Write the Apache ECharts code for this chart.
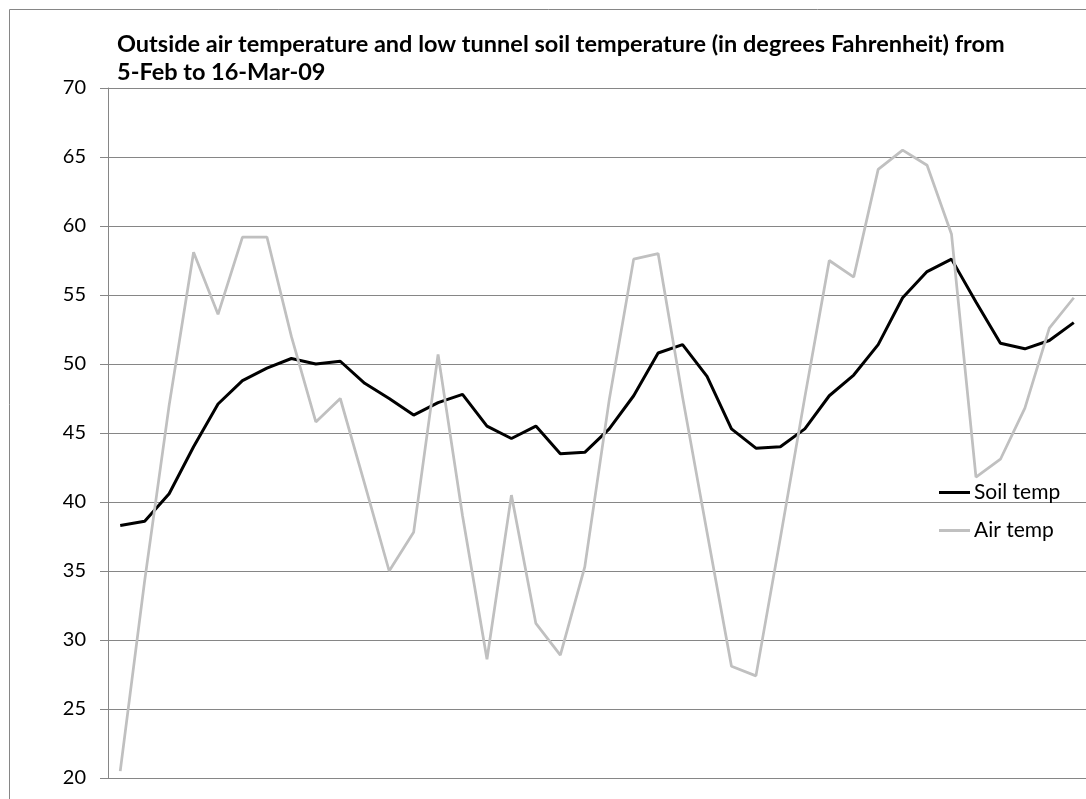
<!DOCTYPE html>
<html>
<head>
<meta charset="utf-8">
<script src="https://cdn.jsdelivr.net/npm/echarts@6/dist/echarts.min.js"></script>
<style>
html,body{margin:0;padding:0;background:#fff;}
#chart{width:1086px;height:799px;}
</style>
</head>
<body>
<div id="chart"></div>
<script>
const categories = ['5-Feb','6-Feb','7-Feb','8-Feb','9-Feb','10-Feb','11-Feb','12-Feb','13-Feb','14-Feb',
  '15-Feb','16-Feb','17-Feb','18-Feb','19-Feb','20-Feb','21-Feb','22-Feb','23-Feb','24-Feb',
  '25-Feb','26-Feb','27-Feb','28-Feb','1-Mar','2-Mar','3-Mar','4-Mar','5-Mar','6-Mar',
  '7-Mar','8-Mar','9-Mar','10-Mar','11-Mar','12-Mar','13-Mar','14-Mar','15-Mar','16-Mar'];
const soilTemp = [38.3, 38.6, 40.6, 44.0, 47.1, 48.8, 49.7, 50.4, 50.0, 50.2,
  48.6, 47.5, 46.3, 47.2, 47.8, 45.5, 44.6, 45.5, 43.5, 43.6,
  45.3, 47.7, 50.8, 51.4, 49.1, 45.3, 43.9, 44.0, 45.3, 47.7,
  49.2, 51.4, 54.8, 56.7, 57.6, 54.5, 51.5, 51.1, 51.7, 53.0];
const airTemp = [20.5, 34.3, 47.0, 58.1, 53.6, 59.2, 59.2, 52.0, 45.8, 47.5,
  41.3, 35.0, 37.8, 50.7, 39.0, 28.6, 40.5, 31.2, 28.9, 35.3,
  47.4, 57.6, 58.0, 47.6, 37.8, 28.1, 27.4, 37.4, 47.6, 57.5,
  56.3, 64.1, 65.5, 64.4, 59.4, 41.8, 43.1, 46.8, 52.6, 54.8];
const seriesNames = ['Soil temp', 'Air temp'];
const titleText = 'Outside air temperature and low tunnel soil temperature (in degrees Fahrenheit) from\n5-Feb to 16-Mar-09';

const FONT = 'Lato, "Open Sans", sans-serif';
const chart = echarts.init(document.getElementById('chart'), null, {renderer: 'canvas'});
chart.setOption({
  backgroundColor: '#ffffff',
  animation: false,
  graphic: [{
    type: 'rect', left: 7, top: 7, silent: true,
    shape: {x: 0, y: 0, width: 1200, height: 900},
    style: {fill: 'none', stroke: '#868686', lineWidth: 1}
  }],
  title: {
    text: titleText,
    left: 117, top: 30, padding: 0,
    textStyle: {fontFamily: FONT, fontWeight: 'bold', fontSize: 23.5, lineHeight: 28, color: '#000'}
  },
  legend: {
    data: seriesNames,
    orient: 'vertical',
    left: 939, top: 481,
    itemWidth: 31, itemHeight: 3, itemGap: 15, padding: 0,
    icon: 'rect',
    textStyle: {fontFamily: FONT, fontSize: 21, color: '#000', lineHeight: 23, padding: [0,0,0,-1]}
  },
  grid: {left: 108, top: 88, bottom: 21, right: -6, containLabel: false},
  xAxis: {
    type: 'category', data: categories, boundaryGap: true,
    axisLine: {show: true, lineStyle: {color: '#868686', width: 1}},
    axisTick: {show: false}, axisLabel: {show: false}, splitLine: {show: false}
  },
  yAxis: {
    type: 'value', min: 20, max: 70, interval: 5,
    axisLine: {show: true, lineStyle: {color: '#868686', width: 1}},
    axisTick: {show: true, inside: false, length: 8, lineStyle: {color: '#868686'}},
    axisLabel: {fontFamily: FONT, fontSize: 20, color: '#000', margin: 22},
    splitLine: {show: true, lineStyle: {color: '#868686', width: 1}}
  },
  series: [
    {name: seriesNames[0], type: 'line', data: soilTemp, symbol: 'none',
     lineStyle: {color: '#000000', width: 3}, itemStyle: {color: '#000000'}},
    {name: seriesNames[1], type: 'line', data: airTemp, symbol: 'none',
     lineStyle: {color: '#c0c0c0', width: 2.75}, itemStyle: {color: '#c0c0c0'}}
  ]
});
</script>
</body>
</html>
